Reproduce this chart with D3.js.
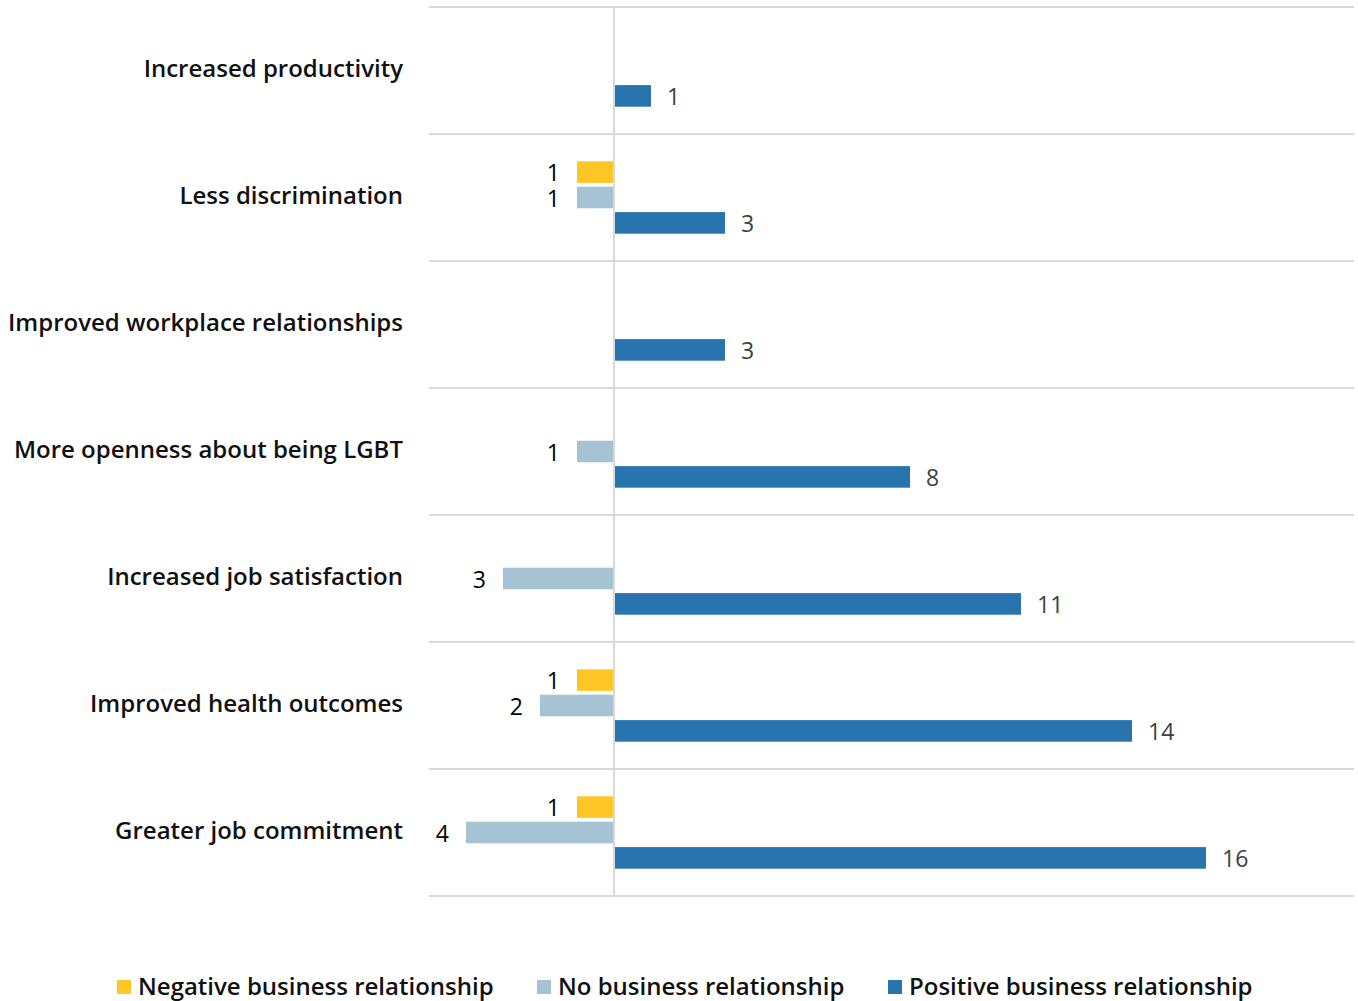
<!DOCTYPE html>
<html>
<head>
<meta charset="utf-8">
<script src="https://cdn.jsdelivr.net/npm/d3@7"></script>
<style>
html,body{margin:0;padding:0;background:#fff;}
svg{display:block;font-family:"Open Sans",sans-serif;}
</style>
</head>
<body>
<svg id="chart" width="1358" height="1001"></svg>
<script>
const categories = ["Increased productivity","Less discrimination","Improved workplace relationships","More openness about being LGBT","Increased job satisfaction","Improved health outcomes","Greater job commitment"];
const seriesKeys = ["Negative business relationship","No business relationship","Positive business relationship"];
const negativeValues = [0,1,0,0,0,1,1];
const noValues = [0,1,0,1,3,2,4];
const positiveValues = [1,3,3,8,11,14,16];
const colors = ["#FFC726","#A6C3D4","#2874AE"];
const signs = [-1,-1,1];

const svg = d3.select("#chart");
const x = d3.scaleLinear().domain([-5,20]).range([429,1354]);
const y0 = d3.scaleBand().domain(categories).range([7,896]).paddingInner(0).paddingOuter(0);
const y1 = d3.scaleBand().domain(seriesKeys).range([0,y0.bandwidth()]).paddingInner(0.15).paddingOuter(1.075);

const allValues = [negativeValues, noValues, positiveValues];

// gridlines
const gridYs = categories.map(c=>y0(c)).concat([y0.range()[1]]);
svg.append("g").selectAll("line").data(gridYs).join("line")
  .attr("x1",x.range()[0]).attr("x2",x.range()[1])
  .attr("y1",d=>d).attr("y2",d=>d)
  .attr("stroke","#d9d9d9").attr("stroke-width",2);

// bars
const rows = [];
categories.forEach((c,i)=>{
  seriesKeys.forEach((k,j)=>{
    const v = allValues[j][i];
    if(v>0) rows.push({c,k,j,v:v*signs[j],raw:v});
  });
});
svg.append("g").selectAll("rect").data(rows).join("rect")
  .attr("x",d=>d.v<0? x(d.v) : x(0)+1)
  .attr("width",d=>Math.abs(x(d.v)-x(0))-1)
  .attr("y",d=>y0(d.c)+y1(d.k))
  .attr("height",y1.bandwidth())
  .attr("fill",d=>colors[d.j]);

// zero line
svg.append("line").attr("x1",x(0)).attr("x2",x(0))
  .attr("y1",y0.range()[0]).attr("y2",y0.range()[1])
  .attr("stroke","#d9d9d9").attr("stroke-width",2);

// value labels
svg.append("g").selectAll("text").data(rows).join("text")
  .attr("x",d=>d.v<0? x(d.v)-17 : x(d.v)+16)
  .attr("y",d=>y0(d.c)+y1(d.k)+y1.bandwidth()/2+1)
  .attr("dy","0.36em")
  .attr("text-anchor",d=>d.v<0?"end":"start")
  .attr("font-size",23)
  .attr("fill",d=>d.v<0?"#000":"#404040")
  .text(d=>d.raw);

// category labels
svg.append("g").selectAll("text").data(categories).join("text")
  .attr("x",403)
  .attr("y",d=>y0(d)+y0.bandwidth()/2-2)
  .attr("dy","0.36em")
  .attr("text-anchor","end")
  .attr("font-size",24)
  .attr("font-weight",600)
  .attr("fill","#111")
  .text(d=>d);

// legend
const legendX = [117,537,888];
const lg = svg.append("g").selectAll("g").data(seriesKeys).join("g")
  .attr("transform",(d,i)=>`translate(${legendX[i]},986)`);
lg.append("rect").attr("x",0).attr("y",-6).attr("width",14).attr("height",14).attr("fill",(d,i)=>colors[i]);
lg.append("text").attr("x",21).attr("y",0).attr("dy","0.36em")
  .attr("font-size",24).attr("font-weight",600).attr("fill","#111").text(d=>d);
</script>
</body>
</html>
